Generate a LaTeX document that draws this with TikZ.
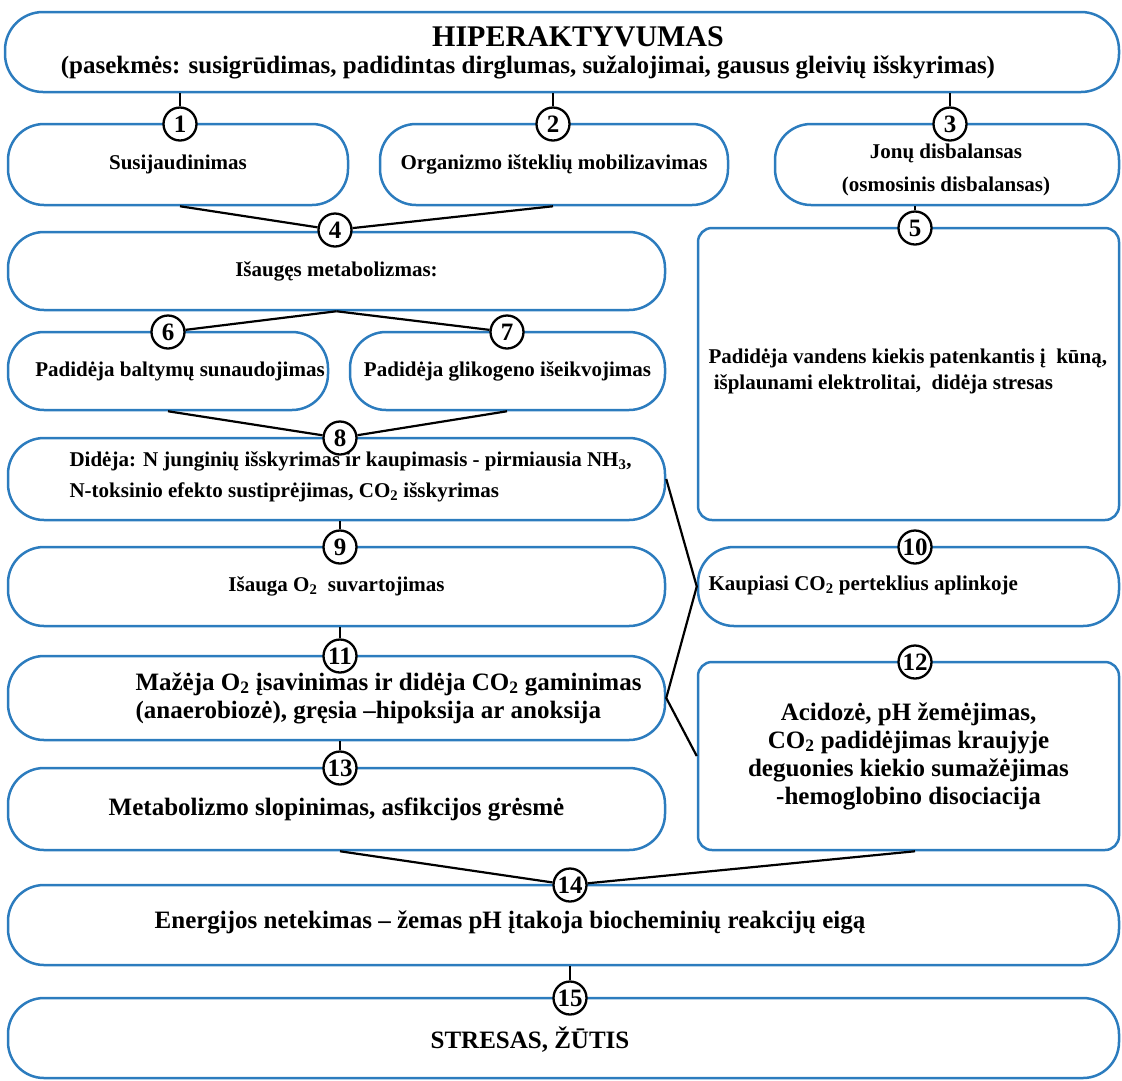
\documentclass[tikz,border=0pt]{standalone}
\usepackage{fontspec}
\setmainfont{Liberation Serif}
\usetikzlibrary{positioning}

\definecolor{boxblue}{RGB}{44,124,190}
\newcommand{\smallfont}{\fontsize{21}{27}\selectfont\bfseries}
\newcommand{\bigfont}{\fontsize{25}{28}\selectfont\bfseries}
\newcommand{\titlefont}{\fontsize{30}{32}\selectfont\bfseries}
\newcommand{\numfont}{\fontsize{25}{25}\selectfont\bfseries}

\tikzset{
  pill/.style={draw=boxblue, line width=2.5pt, rounded corners=36pt, inner sep=0pt, font=\smallfont, align=center},
  panel/.style={draw=boxblue, line width=2.5pt, rounded corners=14pt, inner sep=0pt, font=\smallfont, align=center},
  num/.style={circle, draw, line width=2.3pt, fill=white, minimum size=33pt, inner sep=0pt, font=\numfont},
  link/.style={line width=2.2pt}
}

\begin{document}
\begin{tikzpicture}[x=1pt, y=-1pt]
  \useasboundingbox (0,0) rectangle (1122,1080);

  % --- boxes ---
  \node[pill, minimum width=1114pt, minimum height=80pt, rounded corners=38pt] (top) at (562,52) {};
  \node[pill, minimum width=340pt, minimum height=81pt] (b1) at (178,164.5) {Susijaudinimas};
  \node[pill, minimum width=348pt, minimum height=81pt] (b2) at (554,164.5) {Organizmo išteklių mobilizavimas};
  \node[pill, minimum width=344pt, minimum height=81pt] (b3) at (947,164.5) {};
  \node[pill, minimum width=657pt, minimum height=78pt] (b4) at (336.5,271) {Išaugęs metabolizmas:};
  \node[panel, minimum width=421pt, minimum height=292pt] (b5) at (908.5,374) {};
  \node[pill, minimum width=320pt, minimum height=78pt] (b6) at (168,371) {};
  \node[pill, minimum width=315pt, minimum height=78pt] (b7) at (507.5,371) {Padidėja glikogeno išeikvojimas};
  \node[pill, minimum width=657pt, minimum height=82pt] (b8) at (336.5,479) {};
  \node[pill, minimum width=657pt, minimum height=79pt] (b9) at (336.5,586.5) {Išauga O\textsubscript{2}\ \ suvartojimas};
  \node[pill, minimum width=421pt, minimum height=79pt] (b10) at (908.5,586.5) {};
  \node[pill, minimum width=657pt, minimum height=84pt] (b11) at (336.5,698) {};
  \node[panel, minimum width=421pt, minimum height=188pt, font=\bigfont] (b12) at (908.5,756)
    {Acidozė, pH žemėjimas,\\ CO\textsubscript{2} padidėjimas kraujyje\\deguonies kiekio sumažėjimas\\-hemoglobino disociacija};
  \node[pill, minimum width=657pt, minimum height=82pt, font=\bigfont] (b13) at (336.5,809) {Metabolizmo slopinimas, asfikcijos grėsmė};
  \node[pill, minimum width=1111pt, minimum height=80pt] (b14) at (563.5,925) {};
  \node[pill, minimum width=1111pt, minimum height=80pt] (b15) at (563.5,1038) {};

  % --- texts that sit off centre ---
  \node[font=\titlefont] (t0) at (578,37) {HIPERAKTYVUMAS};
  \node[font=\bigfont] (t0b) at (528,67) {(pasekmės: susigrūdimas, padidintas dirglumas, sužalojimai, gausus gleivių išskyrimas)};
  \node[font=\smallfont, align=center] (t3) at (946,170) {Jonų disbalansas\\[6pt](osmosinis disbalansas)};
  \node[font=\smallfont, anchor=west, align=left] (t5) at (705,371)
    {Padidėja vandens kiekis patenkantis į\ \ kūną,\\[-1pt]\ išplaunami elektrolitai,\ \ didėja stresas};
  \node[font=\smallfont] (t6) at (180,371) {Padidėja baltymų sunaudojimas};
  \node[font=\smallfont, anchor=west, align=left] (t8) at (66,477)
    {Didėja: N junginių išskyrimas ir kaupimasis - pirmiausia NH\textsubscript{3},\\[4pt]N-toksinio efekto sustiprėjimas, CO\textsubscript{2} išskyrimas};
  \node[font=\smallfont, anchor=west] (t10) at (705,585) {Kaupiasi CO\textsubscript{2} perteklius aplinkoje};
  \node[font=\bigfont, anchor=west, align=left] (t11) at (132,698)
    {Mažėja O\textsubscript{2} įsavinimas ir didėja CO\textsubscript{2} gaminimas\\(anaerobiozė), gręsia –hipoksija ar anoksija};
  \node[font=\bigfont] (t14) at (510,922) {Energijos netekimas – žemas pH įtakoja biocheminių reakcijų eigą};
  \node[font=\bigfont] (t15) at (530,1040) {STRESAS, ŽŪTIS};

  % --- numbered steps ---
  \node[num] (c1) at (180,124) {1};
  \node[num] (c2) at (553,124) {2};
  \node[num] (c3) at (950,124) {3};
  \node[num] (c4) at (335,230) {4};
  \node[num] (c5) at (915,228) {5};
  \node[num] (c6) at (168,332) {6};
  \node[num] (c7) at (507,332) {7};
  \node[num] (c8) at (340,438) {8};
  \node[num] (c9) at (340,547) {9};
  \node[num] (c10) at (915,547) {10};
  \node[num] (c11) at (340,656) {11};
  \node[num] (c12) at (915,662) {12};
  \node[num] (c13) at (340,768) {13};
  \node[num] (c14) at (570,885) {14};
  \node[num] (c15) at (570,998) {15};

  % --- connectors ---
  \draw[link] (c1 |- top.south) -- (c1);
  \draw[link] (c2 |- top.south) -- (c2);
  \draw[link] (c3 |- top.south) -- (c3);
  \draw[link] (c1 |- b1.south) -- (c4);
  \draw[link] (c2 |- b2.south) -- (c4);
  \draw[link] (c5 |- b3.south) -- (c5);
  \draw[link] (b4.south) -- (c6);
  \draw[link] (b4.south) -- (c7);
  \draw[link] (c6 |- b6.south) -- (c8);
  \draw[link] (c7 |- b7.south) -- (c8);
  \draw[link] (c8 |- b8.south) -- (c9);
  \draw[link] (c9 |- b9.south) -- (c11);
  \draw[link] (c11 |- b11.south) -- (c13);
  \draw[link] (b8.east) -- (b10.west) -- (b11.east) -- (b12.west);
  \draw[link] (c13 |- b13.south) -- (c14);
  \draw[link] (c12 |- b12.south) -- (c14);
  \draw[link] (c14 |- b14.south) -- (c15);
\end{tikzpicture}
\end{document}
